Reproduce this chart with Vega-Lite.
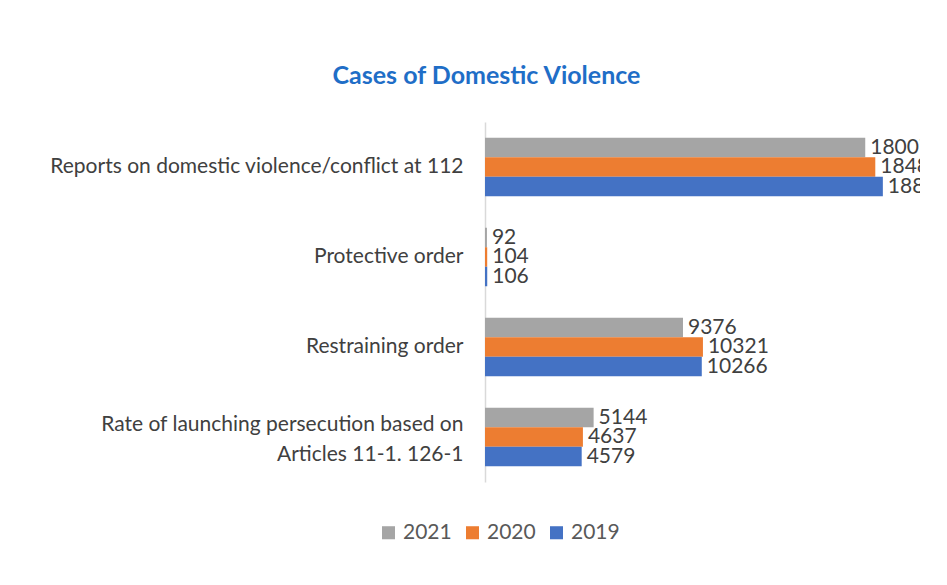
{
  "$schema": "https://vega.github.io/schema/vega-lite/v6.json",
  "width": 435,
  "height": 360,
  "autosize": {"type": "none"},
  "padding": {"left": 485, "top": 122, "right": 27, "bottom": 103},
  "background": "white",
  "title": {
    "text": "Cases of Domestic Violence",
    "font": "Lato",
    "fontSize": 25,
    "fontWeight": "bold",
    "color": "#1F6EC7",
    "anchor": "middle",
    "frame": "group",
    "dx": -216,
    "offset": 33
  },
  "data": {
    "values": [
      {"category": "Reports on domestic violence/conflict at 112", "year": "2021", "value": 18007},
      {"category": "Reports on domestic violence/conflict at 112", "year": "2020", "value": 18483},
      {"category": "Reports on domestic violence/conflict at 112", "year": "2019", "value": 18841},
      {"category": "Protective order", "year": "2021", "value": 92},
      {"category": "Protective order", "year": "2020", "value": 104},
      {"category": "Protective order", "year": "2019", "value": 106},
      {"category": "Restraining order", "year": "2021", "value": 9376},
      {"category": "Restraining order", "year": "2020", "value": 10321},
      {"category": "Restraining order", "year": "2019", "value": 10266},
      {"category": "Rate of launching persecution based on Articles 11-1. 126-1", "year": "2021", "value": 5144},
      {"category": "Rate of launching persecution based on Articles 11-1. 126-1", "year": "2020", "value": 4637},
      {"category": "Rate of launching persecution based on Articles 11-1. 126-1", "year": "2019", "value": 4579}
    ]
  },
  "encoding": {
    "y": {
      "field": "category",
      "type": "nominal",
      "sort": null,
      "scale": {"paddingInner": 0.35, "paddingOuter": 0.175},
      "axis": {
        "title": null,
        "ticks": false,
        "domainColor": "#D9D9D9",
        "domainWidth": 1.5,
        "labelFont": "Lato",
        "labelFontSize": 21,
        "labelColor": "#404040",
        "labelPadding": 22,
        "labelLimit": 500,
        "labelLineHeight": 30,
        "labelOffset": {"condition": {"test": "datum.value == 'Rate of launching persecution based on Articles 11-1. 126-1'", "value": -12}, "value": 0},
        "labelExpr": "datum.label == 'Rate of launching persecution based on Articles 11-1. 126-1' ? ['Rate of launching persecution based on', 'Articles 11-1. 126-1'] : datum.label"
      }
    },
    "yOffset": {"field": "year", "type": "nominal", "sort": ["2021", "2020", "2019"], "scale": {"paddingInner": 0, "paddingOuter": 0}},
    "x": {
      "field": "value",
      "type": "quantitative",
      "scale": {"domain": [0, 20600], "nice": false},
      "axis": null
    }
  },
  "layer": [
    {
      "mark": {"type": "bar", "clip": true},
      "encoding": {
        "color": {
          "field": "year",
          "type": "nominal",
          "scale": {"domain": ["2021", "2020", "2019"], "range": ["#A5A5A5", "#ED7D31", "#4472C4"]},
          "legend": {
            "title": null,
            "orient": "none",
            "direction": "horizontal",
            "legendX": -107,
            "legendY": 400,
            "symbolType": "square",
            "symbolSize": 170,
            "symbolStrokeWidth": 0,
            "labelFont": "Lato",
            "labelFontSize": 21,
            "labelColor": "#595959",
            "columnPadding": 10,
            "labelOffset": 4
          }
        }
      }
    },
    {
      "mark": {"type": "text", "align": "left", "dx": 5, "font": "Lato", "fontSize": 21, "color": "#404040", "clip": true},
      "encoding": {"text": {"field": "value", "type": "quantitative", "format": "d"}}
    }
  ],
  "config": {"view": {"stroke": null}}
}
